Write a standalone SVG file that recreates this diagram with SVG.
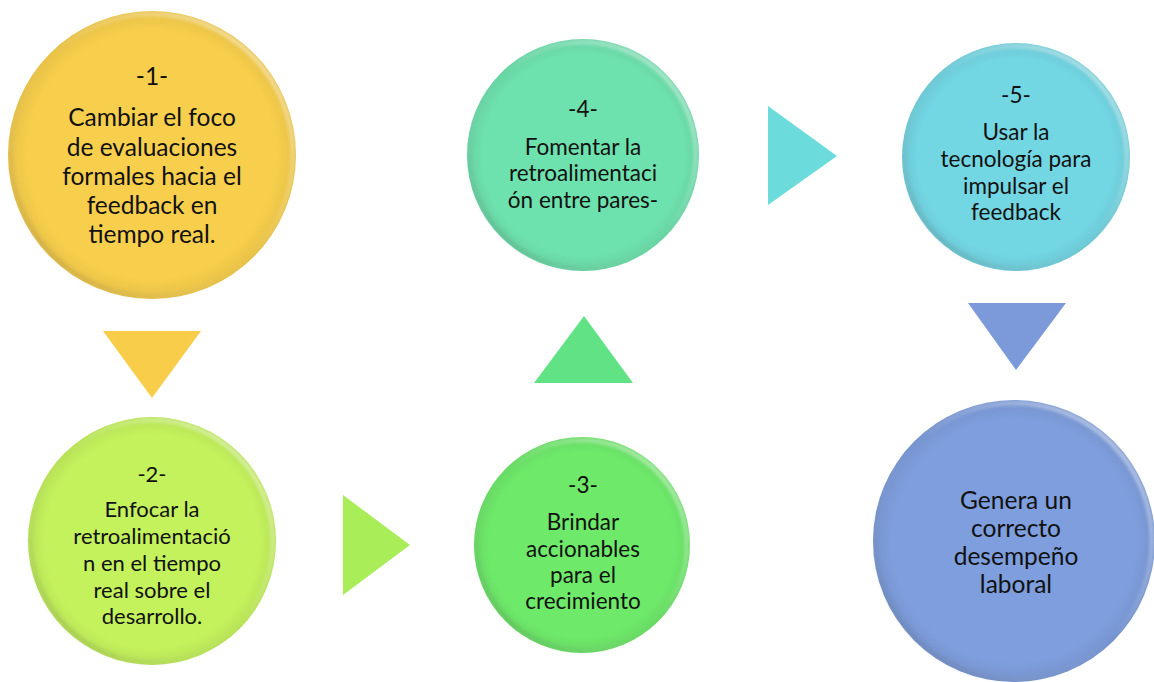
<svg xmlns="http://www.w3.org/2000/svg" width="1154" height="682" viewBox="0 0 1154 682">
  <defs>
    <!-- soft bevel rim: light at top-right, darker at bottom-left -->
    <linearGradient id="rim" x1="1" y1="0" x2="0" y2="1">
      <stop offset="0" stop-color="#ffffff" stop-opacity="0.55"/>
      <stop offset="0.5" stop-color="#ffffff" stop-opacity="0"/>
      <stop offset="1" stop-color="#000000" stop-opacity="0.18"/>
    </linearGradient>
    <radialGradient id="shade" cx="0.5" cy="0.5" r="0.5">
      <stop offset="0.86" stop-color="#000000" stop-opacity="0"/>
      <stop offset="1" stop-color="#000000" stop-opacity="0.07"/>
    </radialGradient>
    <filter id="soft" x="-10%" y="-10%" width="120%" height="120%">
      <feGaussianBlur stdDeviation="1.6"/>
    </filter>
    <filter id="edge" x="-5%" y="-5%" width="110%" height="110%">
      <feGaussianBlur stdDeviation="0.6"/>
    </filter>
  </defs>
  <style>
    text { font-family: Lato, "Open Sans", "Liberation Sans", sans-serif; fill: #111; text-anchor: middle; }
    .t { font-size: 24.5px; }
    .s { font-size: 22.5px; }
    .rim { fill: none; stroke: url(#rim); stroke-width: 5; filter: url(#soft); }
    .sh { fill: url(#shade); }
    .tri { filter: url(#edge); }
  </style>

  <rect width="1154" height="682" fill="#ffffff"/>

  <!-- arrows between steps -->
  <g id="connectors">
    <polygon class="tri" points="103,331 201,331 152,398" fill="#f8cd48"/>
    <polygon class="tri" points="343,495 343,595 410,545" fill="#a9ed58"/>
    <polygon class="tri" points="534,383 633,383 584,316" fill="#60e285"/>
    <polygon class="tri" points="768,106 768,205 837,156" fill="#6cdbdc"/>
    <polygon class="tri" points="968,303 1066,303 1016,370" fill="#7c99d9"/>
  </g>

  <g id="step1">
    <circle cx="152" cy="155" r="144" fill="#f8cf4c"/>
    <circle cx="152" cy="155" r="144" class="sh"/>
    <circle cx="152" cy="155" r="141" class="rim"/>
    <text class="t" x="152" y="85">-1-</text>
    <text class="t" x="152" y="126">Cambiar el foco</text>
    <text class="t" x="152" y="156">de evaluaciones</text>
    <text class="t" x="152" y="185">formales hacia el</text>
    <text class="t" x="152" y="214">feedback en</text>
    <text class="t" x="152" y="243">tiempo real.</text>
  </g>

  <g id="step2">
    <circle cx="152" cy="541" r="124" fill="#c4f25c"/>
    <circle cx="152" cy="541" r="124" class="sh"/>
    <circle cx="152" cy="541" r="121" class="rim"/>
    <text class="s" x="152" y="482" style="font-size:22px">-2-</text>
    <text class="s" x="152" y="517" style="font-size:22px">Enfocar la</text>
    <text class="s" x="152" y="544" style="font-size:22px">retroalimentació</text>
    <text class="s" x="152" y="571" style="font-size:22px">n en el tiempo</text>
    <text class="s" x="152" y="598" style="font-size:22px">real sobre el</text>
    <text class="s" x="152" y="624" style="font-size:22px">desarrollo.</text>
  </g>

  <g id="step3">
    <circle cx="582" cy="545" r="108" fill="#6ee96a"/>
    <circle cx="582" cy="545" r="108" class="sh"/>
    <circle cx="582" cy="545" r="105" class="rim"/>
    <text class="s" x="583" y="493">-3-</text>
    <text class="s" x="583" y="530">Brindar</text>
    <text class="s" x="583" y="557">accionables</text>
    <text class="s" x="583" y="583">para el</text>
    <text class="s" x="583" y="609">crecimiento</text>
  </g>

  <g id="step4">
    <circle cx="583" cy="155" r="116" fill="#6ee2ae"/>
    <circle cx="583" cy="155" r="116" class="sh"/>
    <circle cx="583" cy="155" r="113" class="rim"/>
    <text class="s" x="583" y="117">-4-</text>
    <text class="s" x="583" y="155">Fomentar la</text>
    <text class="s" x="583" y="181">retroalimentaci</text>
    <text class="s" x="583" y="208">ón entre pares-</text>
  </g>

  <g id="step5">
    <circle cx="1016" cy="157" r="114" fill="#73d6e3"/>
    <circle cx="1016" cy="157" r="114" class="sh"/>
    <circle cx="1016" cy="157" r="111" class="rim"/>
    <text class="s" x="1016" y="103">-5-</text>
    <text class="s" x="1016" y="140">Usar la</text>
    <text class="s" x="1016" y="167">tecnología para</text>
    <text class="s" x="1016" y="194">impulsar el</text>
    <text class="s" x="1016" y="220">feedback</text>
  </g>

  <g id="result">
    <circle cx="1014" cy="541" r="141" fill="#7e9edd"/>
    <circle cx="1014" cy="541" r="141" class="sh"/>
    <circle cx="1014" cy="541" r="138" class="rim"/>
    <text class="t" x="1016" y="509">Genera un</text>
    <text class="t" x="1016" y="537">correcto</text>
    <text class="t" x="1016" y="565">desempeño</text>
    <text class="t" x="1016" y="593">laboral</text>
  </g>
</svg>
